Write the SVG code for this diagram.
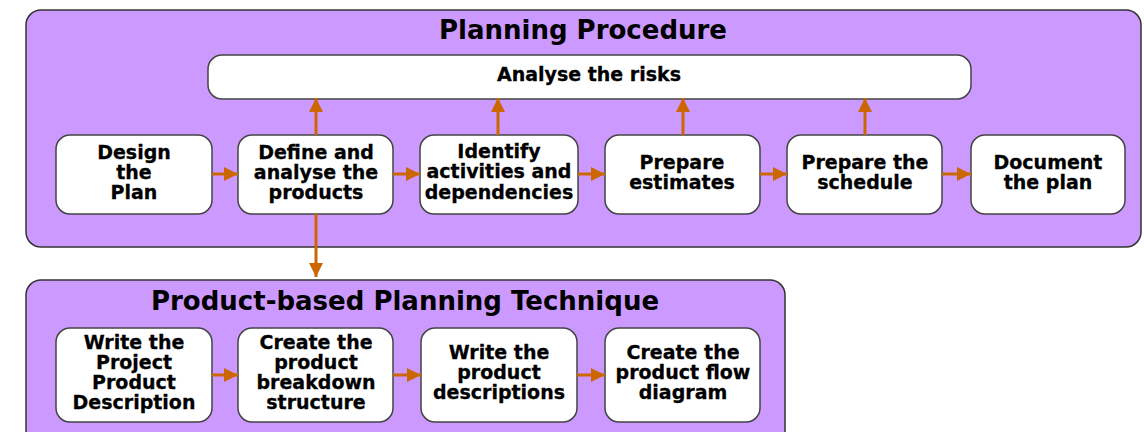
<svg xmlns="http://www.w3.org/2000/svg" width="1144" height="432" viewBox="0 0 1144 432">
<defs>
<style>
.frame{fill:#cc99ff;stroke:#333;stroke-width:1.5}
.node{fill:#fff;stroke:#444;stroke-width:1.5}
.title{font-family:"DejaVu Sans",Verdana,sans-serif;font-weight:bold;font-size:26px;fill:#000;text-anchor:middle}
.lbl{font-family:"DejaVu Sans",Verdana,sans-serif;font-weight:bold;font-size:19px;fill:#000;text-anchor:middle;stroke:#000;stroke-width:0.3}
.conn{stroke:#cc6600;stroke-width:3;fill:none;marker-end:url(#ah)}
</style>
<marker id="ah" markerUnits="userSpaceOnUse" markerWidth="16" markerHeight="16" viewBox="0 0 16 16" refX="15" refY="8" orient="auto">
<path d="M1,1 L15,8 L1,15 Z" fill="#cc6600"/>
</marker>
</defs>
<g id="frame-planning">
<rect class="frame" x="26" y="10" width="1115" height="237" rx="15"/>
<text class="title" x="583" y="39">Planning Procedure</text>
</g>
<g id="frame-pbp">
<rect class="frame" x="26" y="280" width="759" height="170" rx="15"/>
<text class="title" x="405" y="310">Product-based Planning Technique</text>
</g>
<g id="risks">
<rect class="node" x="208" y="55" width="763" height="44" rx="14"/>
<text class="lbl" x="589" y="81">Analyse the risks</text>
</g>
<g id="design">
<rect class="node" x="56" y="135" width="156" height="79" rx="14"/>
<text class="lbl" x="134" y="159">Design</text>
<text class="lbl" x="134" y="179">the</text>
<text class="lbl" x="134" y="199">Plan</text>
</g>
<g id="define">
<rect class="node" x="238" y="135" width="155" height="79" rx="14"/>
<text class="lbl" x="316" y="159">Define and</text>
<text class="lbl" x="316" y="179">analyse the</text>
<text class="lbl" x="316" y="199">products</text>
</g>
<g id="identify">
<rect class="node" x="420" y="135" width="158" height="79" rx="14"/>
<text class="lbl" x="499" y="158">Identify</text>
<text class="lbl" x="499" y="178">activities and</text>
<text class="lbl" x="499" y="199">dependencies</text>
</g>
<g id="estimates">
<rect class="node" x="605" y="135" width="155" height="79" rx="14"/>
<text class="lbl" x="682" y="169">Prepare</text>
<text class="lbl" x="682" y="189">estimates</text>
</g>
<g id="schedule">
<rect class="node" x="787" y="135" width="155" height="79" rx="14"/>
<text class="lbl" x="865" y="169">Prepare the</text>
<text class="lbl" x="865" y="189">schedule</text>
</g>
<g id="document">
<rect class="node" x="971" y="135" width="154" height="79" rx="14"/>
<text class="lbl" x="1048" y="169">Document</text>
<text class="lbl" x="1048" y="189">the plan</text>
</g>
<g id="ppd">
<rect class="node" x="56" y="328" width="156" height="94" rx="14"/>
<text class="lbl" x="134" y="349">Write the</text>
<text class="lbl" x="134" y="369">Project</text>
<text class="lbl" x="134" y="389">Product</text>
<text class="lbl" x="134" y="409">Description</text>
</g>
<g id="pbs">
<rect class="node" x="238" y="328" width="155" height="94" rx="14"/>
<text class="lbl" x="316" y="349">Create the</text>
<text class="lbl" x="316" y="369">product</text>
<text class="lbl" x="316" y="389">breakdown</text>
<text class="lbl" x="316" y="409">structure</text>
</g>
<g id="pd">
<rect class="node" x="421" y="328" width="156" height="94" rx="14"/>
<text class="lbl" x="499" y="359">Write the</text>
<text class="lbl" x="499" y="379">product</text>
<text class="lbl" x="499" y="399">descriptions</text>
</g>
<g id="pfd">
<rect class="node" x="605" y="328" width="155" height="94" rx="14"/>
<text class="lbl" x="683" y="359">Create the</text>
<text class="lbl" x="683" y="379">product flow</text>
<text class="lbl" x="683" y="399">diagram</text>
</g>
<g id="connectors">
<line class="conn" x1="212" y1="174" x2="238" y2="174"/>
<line class="conn" x1="393" y1="174" x2="420" y2="174"/>
<line class="conn" x1="578" y1="174" x2="605" y2="174"/>
<line class="conn" x1="760" y1="174" x2="787" y2="174"/>
<line class="conn" x1="942" y1="174" x2="971" y2="174"/>
<line class="conn" x1="316" y1="135" x2="316" y2="98"/>
<line class="conn" x1="498" y1="135" x2="498" y2="98"/>
<line class="conn" x1="683" y1="135" x2="683" y2="98"/>
<line class="conn" x1="865" y1="135" x2="865" y2="98"/>
<line class="conn" x1="316" y1="214" x2="316" y2="277"/>
<line class="conn" x1="212" y1="375" x2="238" y2="375"/>
<line class="conn" x1="393" y1="375" x2="421" y2="375"/>
<line class="conn" x1="577" y1="375" x2="605" y2="375"/>
</g>
</svg>
